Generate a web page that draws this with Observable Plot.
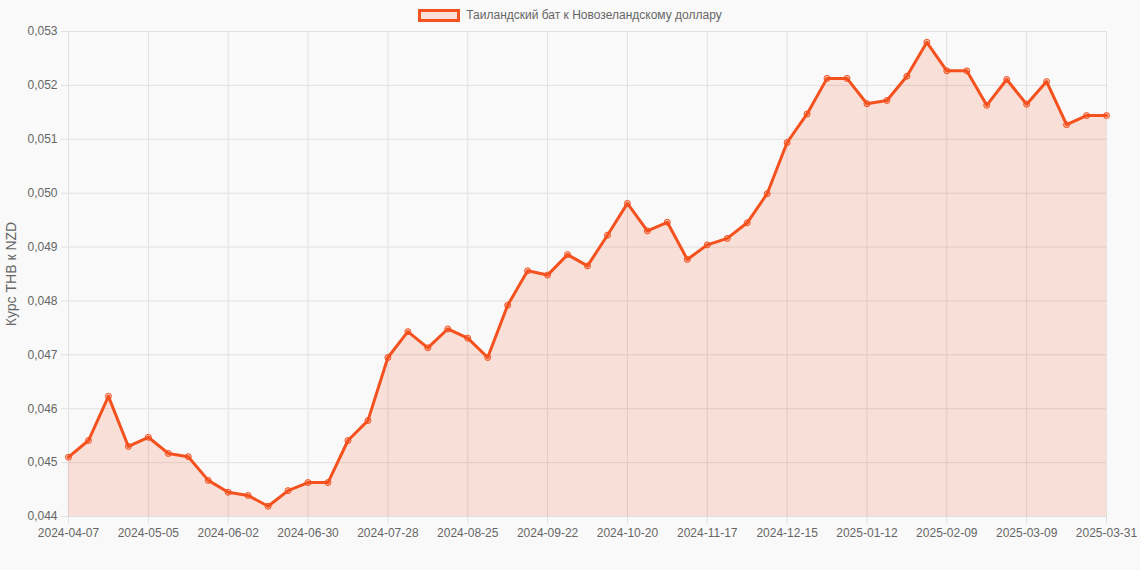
<!DOCTYPE html>
<html>
<head>
<meta charset="utf-8">
<script src="https://cdn.jsdelivr.net/npm/d3@7"></script>
<script src="https://cdn.jsdelivr.net/npm/@observablehq/plot@0.6"></script>
<style>
  html, body { margin: 0; padding: 0; background: #f9f9f9; }
  #wrap { width: 1140px; height: 570px; overflow: hidden; }
  #legend { height: 24px; box-sizing: border-box; padding-top: 9px; display: flex; justify-content: center; align-items: flex-start;
            font: 12px "Liberation Sans", Arial, sans-serif; color: #666; }
  #legend .box { width: 36px; height: 7px; border: 3px solid #f4511e; background: #f8e1d7; margin-right: 6px; }
  #legend .txt { line-height: 13px; }
</style>
</head>
<body>
<div id="wrap">
  <div id="legend"><div class="box"></div><div class="txt" id="legtxt"></div></div>
  <div id="chart"></div>
</div>
<script>
const seriesName = "Таиландский бат к Новозеландскому доллару";
const yLabel = "Курс THB к NZD";

const dates = [
  "2024-04-07","2024-04-14","2024-04-21","2024-04-28",
  "2024-05-05","2024-05-12","2024-05-19","2024-05-26",
  "2024-06-02","2024-06-09","2024-06-16","2024-06-23","2024-06-30",
  "2024-07-07","2024-07-14","2024-07-21","2024-07-28",
  "2024-08-04","2024-08-11","2024-08-18","2024-08-25",
  "2024-09-01","2024-09-08","2024-09-15","2024-09-22","2024-09-29",
  "2024-10-06","2024-10-13","2024-10-20","2024-10-27",
  "2024-11-03","2024-11-10","2024-11-17","2024-11-24",
  "2024-12-01","2024-12-08","2024-12-15","2024-12-22","2024-12-29",
  "2025-01-05","2025-01-12","2025-01-19","2025-01-26",
  "2025-02-02","2025-02-09","2025-02-16","2025-02-23",
  "2025-03-02","2025-03-09","2025-03-16","2025-03-23","2025-03-30","2025-03-31"
];

const values = [
  0.04510, 0.04541, 0.04623, 0.04530,
  0.04547, 0.04517, 0.04511, 0.04467,
  0.04445, 0.04439, 0.04419, 0.04448, 0.04463,
  0.04463, 0.04541, 0.04578, 0.04695,
  0.04743, 0.04713, 0.04748, 0.04731,
  0.04695, 0.04792, 0.04856, 0.04848, 0.04886, 0.04865,
  0.04922, 0.04981, 0.04930, 0.04946,
  0.04877, 0.04904, 0.04916, 0.04945,
  0.04999, 0.05094, 0.05147, 0.05213, 0.05213,
  0.05166, 0.05172, 0.05217, 0.05280,
  0.05227, 0.05227, 0.05163, 0.05211,
  0.05165, 0.05207, 0.05127, 0.05144, 0.05144
];

const xTickLabels = [
  "2024-04-07","2024-05-05","2024-06-02","2024-06-30","2024-07-28",
  "2024-08-25","2024-09-22","2024-10-20","2024-11-17","2024-12-15",
  "2025-01-12","2025-02-09","2025-03-09","2025-03-31"
];
const yTicks = [0.044, 0.045, 0.046, 0.047, 0.048, 0.049, 0.050, 0.051, 0.052, 0.053];

const data = dates.map((d, i) => ({date: d, value: values[i]}));
const fmt = v => d3.format(".3f")(v).replace(".", ",");

document.getElementById("legtxt").textContent = seriesName;

const gridColor = "#e0e0e0";
const chart = Plot.plot({
  width: 1140,
  height: 546,
  marginLeft: 68,
  marginRight: 34,
  marginTop: 7,
  marginBottom: 54,
  style: {background: "#f9f9f9", color: "#666", fontSize: "12px", fontFamily: "'Liberation Sans', Arial, sans-serif"},
  x: {type: "point", domain: dates, padding: 0},
  y: {domain: [0.044, 0.053]},
  marks: [
    Plot.gridY(yTicks, {stroke: gridColor, strokeOpacity: 1}),
    Plot.gridX(xTickLabels, {stroke: gridColor, strokeOpacity: 1}),
    Plot.areaY(data, {x: "date", y: "value", fill: "#f4511e", fillOpacity: 0.15, clip: true}),
    Plot.lineY(data, {x: "date", y: "value", stroke: "#f4511e", strokeWidth: 3, strokeLinejoin: "round"}),
    Plot.dot(data, {x: "date", y: "value", r: 3, stroke: "#f4511e", strokeWidth: 1, fill: "#f4511e", fillOpacity: 0.3}),
    Plot.axisY(yTicks, {tickFormat: fmt, tickSize: 7, tickPadding: 4, stroke: gridColor, fill: "#666",
      label: yLabel, labelAnchor: "center", labelArrow: "none", labelOffset: 62, fontSize: 12}),
    Plot.axisX(xTickLabels, {tickSize: 8, tickPadding: 4, stroke: gridColor, fill: "#666", label: null, fontSize: 12})
  ]
});
d3.select(chart).selectAll("g[aria-label='y-axis label'] text").style("font-size", "14px");
document.getElementById("chart").appendChild(chart);
</script>
</body>
</html>
